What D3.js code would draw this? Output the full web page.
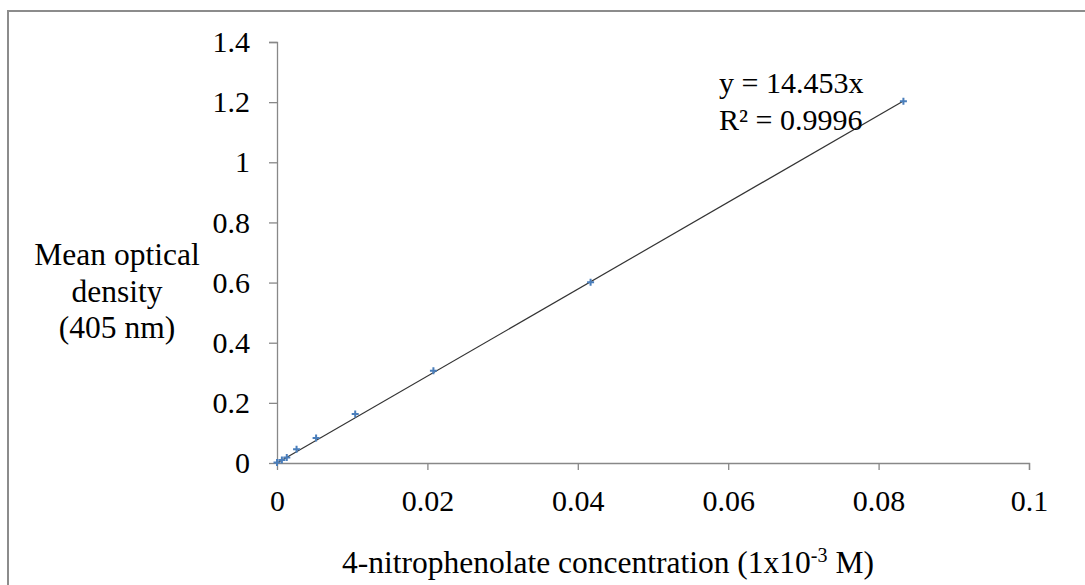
<!DOCTYPE html>
<html>
<head>
    <meta charset="utf-8">
    <title>4-nitrophenolate standard curve</title>
    <script type="text/javascript" src="https://d3js.org/d3.v7.min.js"></script>
    <style>
        body { margin: 0; background: white; }
        .canvas { font-family: "Liberation Serif", "Times New Roman", serif; }
    </style>
</head>
<body>
    <svg class="canvas" width="1085" height="585"></svg>
    <script type="text/javascript">
        // concentration (x) vs mean optical density (y)
        var concentration = [0, 0.00065, 0.0013, 0.0026, 0.0052, 0.0104, 0.0208, 0.0417, 0.0833];
        var density = [0.002, 0.01, 0.018, 0.046, 0.083, 0.163, 0.307, 0.601, 1.203];
        var xTicks = [0, 0.02, 0.04, 0.06, 0.08, 0.1];
        var yTicks = [0, 0.2, 0.4, 0.6, 0.8, 1, 1.2, 1.4];
        var slope = 14.453;
        var equationLines = ["y = 14.453x", "R\u00b2 = 0.9996"];
        var yTitle = ['Mean optical', 'density', '(405 nm)'];

        var svg = d3.select('.canvas');
        var axisColor = '#888';
        var fs = '30px';    // ticks + equation
        var tfs = '31.5px'; // axis titles

        // outer frame (only top and left show in the window)
        svg.append('rect')
            .attr('x', 8).attr('y', 11)
            .attr('width', 1200).attr('height', 700)
            .attr('fill', 'none')
            .attr('stroke', '#8c8c8c')
            .attr('stroke-width', 2);

        var x = d3.scaleLinear().domain([0, 0.1]).range([277, 1029]);
        var y = d3.scaleLinear().domain([0, 1.4]).range([463, 42]);

        var xAxis = svg.append('g')
            .attr('transform', 'translate(0,463)')
            .call(d3.axisBottom(x).tickValues(xTicks).tickSize(7).tickPadding(20)
                .tickFormat(d => d3.format('')(+d.toFixed(2))));
        var yAxis = svg.append('g')
            .attr('transform', 'translate(277,0)')
            .call(d3.axisLeft(y).tickValues(yTicks).tickSize(8).tickPadding(19)
                .tickFormat(d => d3.format('')(+d.toFixed(1))));

        [xAxis, yAxis].forEach(g => {
            g.select('.domain').attr('stroke', axisColor).attr('stroke-width', 1.3);
            g.selectAll('.tick line').attr('stroke', axisColor).attr('stroke-width', 1.3);
            g.selectAll('.tick text')
                .attr('fill', '#000')
                .style('font-family', '"Liberation Serif", serif')
                .style('font-size', fs);
        });
        // axis domains without end caps
        xAxis.select('.domain').attr('d', 'M277,0.5H1029.5V7');
        yAxis.select('.domain').attr('d', 'M-8,42.5H0.5V463');

        // trendline
        var xmax = d3.max(concentration);
        svg.append('line')
            .attr('x1', x(0)).attr('y1', y(0))
            .attr('x2', x(xmax)).attr('y2', y(slope * xmax))
            .attr('stroke', '#333')
            .attr('stroke-width', 1.2);

        // "+" markers
        var pts = concentration.map((c, i) => ({ c: c, d: density[i] }));
        var marks = svg.selectAll('.pt').data(pts).enter().append('g')
            .attr('class', 'pt')
            .attr('transform', d => 'translate(' + x(d.c) + ',' + y(d.d) + ')');
        marks.append('path')
            .attr('d', 'M-3.5,0H3.5M0,-3.5V3.5')
            .attr('stroke', '#4a7ebb')
            .attr('stroke-width', 2);

        // equation
        svg.append('g').selectAll('text').data(equationLines).enter().append('text')
            .attr('x', 719)
            .attr('y', (d, i) => 93 + i * 37)
            .attr('font-size', fs)
            .attr('fill', '#000')
            .text(d => d);

        // y title
        svg.append('g').selectAll('text').data(yTitle).enter().append('text')
            .attr('x', 117)
            .attr('y', (d, i) => 265 + i * 36.5)
            .attr('text-anchor', 'middle')
            .attr('font-size', tfs)
            .attr('fill', '#000')
            .text(d => d);

        // x title
        var xt = svg.append('text')
            .attr('x', 342)
            .attr('y', 573)
            .attr('font-size', tfs)
            .attr('fill', '#000');
        xt.append('tspan').text('4-nitrophenolate concentration (1x10');
        xt.append('tspan').attr('font-size', '20px').attr('dy', -11).text('-3');
        xt.append('tspan').attr('dy', 11).text(' M)');
    </script>
</body>
</html>
